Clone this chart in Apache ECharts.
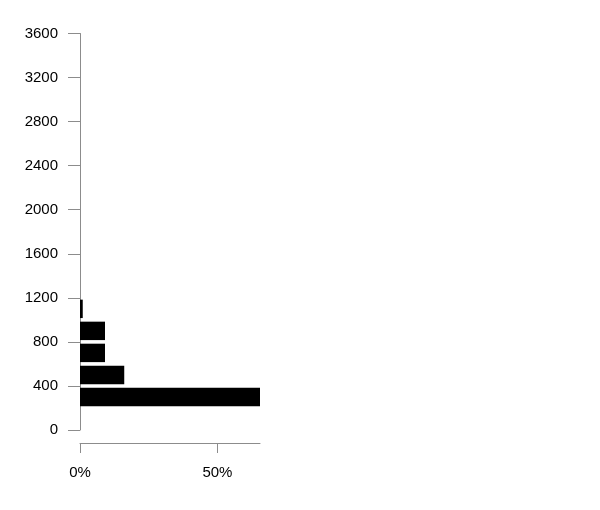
<!DOCTYPE html>
<html>
<head>
<meta charset="utf-8">
<script src="https://cdn.jsdelivr.net/npm/echarts@6/dist/echarts.min.js"></script>
<style>html,body{margin:0;padding:0;background:#fff}#c{width:600px;height:510px}</style>
</head>
<body>
<div id="c"></div>
<script>
// Histogram bins (lower, upper) and share of observations in %
const binLower = [200, 400, 600, 800, 1000];
const binUpper = [400, 600, 800, 1000, 1200];
const percents = [65.5, 16.1, 9.1, 9.1, 1.0];
const xTickValues = [0, 50];
const yMin = 0, yMax = 3600, yStep = 400;

const data = percents.map((p, i) => [p, binLower[i], binUpper[i]]);

const chart = echarts.init(document.getElementById('c'), null, {renderer: 'canvas'});
const axisGray = '#8c8c8c';
chart.setOption({
  animation: false,
  textStyle: {fontFamily: 'Liberation Sans, Arial, sans-serif'},
  grid: {left: 80, top: 33.5, width: 180, bottom: 80, containLabel: false},
  xAxis: {
    type: 'value', min: 0, max: Math.max(...percents),
    offset: 13,
    axisLine: {show: true, onZero: false, lineStyle: {color: axisGray, width: 1}},
    axisTick: {show: true, inside: false, length: 10, customValues: xTickValues, lineStyle: {color: axisGray}},
    axisLabel: {customValues: xTickValues, formatter: v => v + '%', color: '#000', fontSize: 15, margin: 22},
    splitLine: {show: false}
  },
  yAxis: {
    type: 'value', min: yMin, max: yMax, interval: yStep,
    axisLine: {show: true, onZero: false, lineStyle: {color: axisGray, width: 1}},
    axisTick: {show: true, length: 12, lineStyle: {color: axisGray}},
    axisLabel: {color: '#000', fontSize: 15, margin: 22, formatter: v => String(v)},
    splitLine: {show: false}
  },
  series: [{
    type: 'custom',
    data: data,
    encode: {x: 0, y: [1, 2]},
    renderItem: function (params, api) {
      const lo = api.coord([0, api.value(1)]);
      const hi = api.coord([api.value(0), api.value(2)]);
      const gap = 1.8;
      return {
        type: 'rect',
        shape: {x: lo[0], y: hi[1] + gap, width: hi[0] - lo[0], height: lo[1] - hi[1] - 2 * gap},
        style: {fill: '#000'}
      };
    }
  }]
});
</script>
</body>
</html>
